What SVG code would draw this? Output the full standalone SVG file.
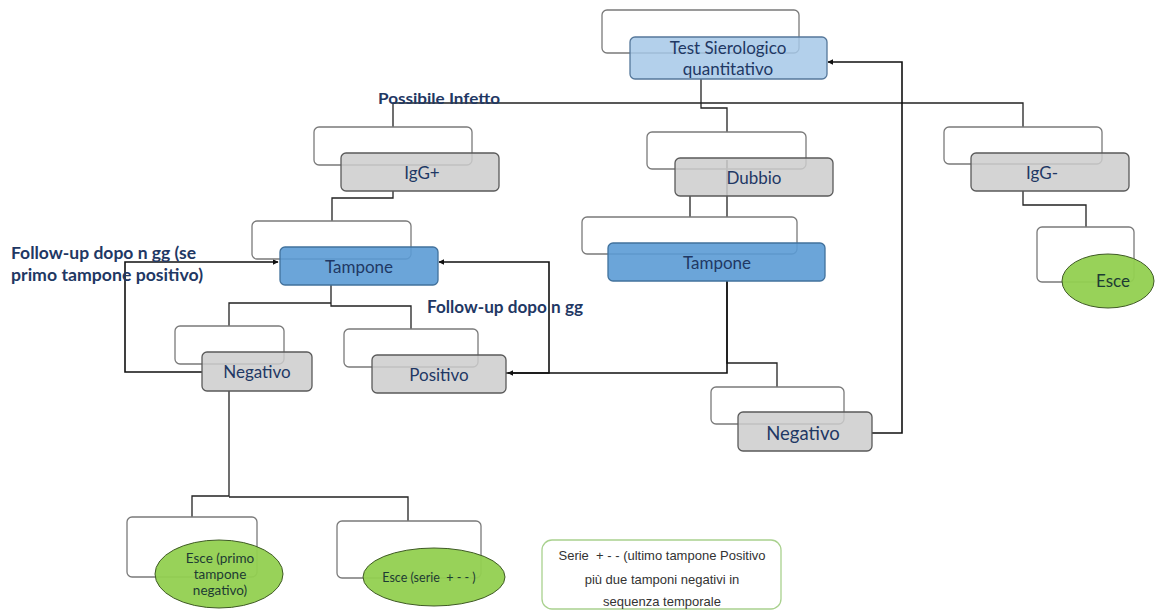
<svg xmlns="http://www.w3.org/2000/svg" width="1155" height="610" viewBox="0 0 1155 610">
<style>
.bg{fill:#ffffff}
.back{fill:none;stroke:#7a7a7a;stroke-width:1.3}
.gray{fill:#cdcdcd;fill-opacity:0.85;stroke:#5a5a5a;stroke-width:1.3}
.lblue{fill:#a6c8e8;fill-opacity:0.85;stroke:#55779a;stroke-width:1.3}
.blue{fill:#5b9bd5;fill-opacity:0.9;stroke:#41719c;stroke-width:1.3}
.green{fill:#92d050;stroke:#3f5a25;stroke-width:1}
.conn{fill:none;stroke:#222;stroke-width:1.3}
.arr{fill:none;stroke:#111;stroke-width:1.6;marker-end:url(#ah)}
.t{font-family:Lato,"Liberation Sans",sans-serif;fill:#1f3864;text-anchor:middle}
.g{font-family:Lato,"Liberation Sans",sans-serif;fill:#1d3b33;text-anchor:middle}
.b{font-family:Lato,"Liberation Sans",sans-serif;font-weight:bold;fill:#1f3864}
.leg{font-family:"Liberation Sans",Arial,sans-serif;font-size:13px;fill:#333;text-anchor:middle}
</style>
<defs>
<marker id="ah" viewBox="0 0 10 10" refX="9" refY="5" markerWidth="6" markerHeight="6" markerUnits="userSpaceOnUse" orient="auto">
<path d="M0,0 L10,5 L0,10 z" fill="#111"/>
</marker>
</defs>
<rect class="bg" x="0" y="0" width="1155" height="610"/>

<g id="connectors">
<polyline class="conn" points="701,79 701,108 727,108 727,132"/>
<polyline class="conn" points="393,127 393,103 1023,103 1023,127"/>
<polyline class="conn" points="393,191 393,198 332,198 332,221"/>
<line class="conn" x1="690" y1="196" x2="690" y2="217"/>
<line class="conn" x1="727" y1="160" x2="727" y2="217"/>
<polyline class="conn" points="1023,191 1023,205 1086,205 1086,227"/>
<polyline class="conn" points="331,285 331,306 411,306 411,329"/>
<polyline class="conn" points="331,303 229,303 229,326"/>
<polyline class="conn" points="727,281 727,363 777,363 777,387"/>
<polyline class="conn" points="229,391 229,496 192,496 192,517"/>
<polyline class="conn" points="229,497 408,497 408,521"/>
<polyline class="arr" points="202,372 125,372 125,262 278,262"/>
<polyline class="arr" points="506,373 549,373 549,262 439,262"/>
<polyline class="arr" points="727,281 727,373 508,373"/>
<polyline class="arr" points="872,433 902,433 902,62 828,62"/>
</g>

<g id="test-sierologico">
<rect class="back" x="602" y="10" width="197" height="43" rx="5"/>
<rect class="lblue" x="630" y="37" width="197" height="42" rx="5"/>
<text class="t" x="728" y="54" font-size="17">Test Sierologico</text>
<text class="t" x="728" y="75" font-size="17">quantitativo</text>
</g>

<g id="possibile-infetto">
<text class="b" x="378" y="104" font-size="15" textLength="122" lengthAdjust="spacingAndGlyphs">Possibile Infetto</text>
</g>

<g id="igg-pos">
<rect class="back" x="314" y="127" width="158" height="38" rx="5"/>
<rect class="gray" x="341" y="153" width="158" height="38" rx="5"/>
<text class="t" x="422" y="179" font-size="17">IgG+</text>
</g>

<g id="dubbio">
<rect class="back" x="647" y="132" width="159" height="37" rx="5"/>
<rect class="gray" x="675" y="158" width="158" height="38" rx="5"/>
<text class="t" x="754" y="184" font-size="17">Dubbio</text>
</g>

<g id="igg-neg">
<rect class="back" x="944" y="127" width="158" height="37" rx="5"/>
<rect class="gray" x="971" y="153" width="158" height="38" rx="5"/>
<text class="t" x="1042" y="179" font-size="17">IgG-</text>
</g>

<g id="esce-right">
<rect class="back" x="1037" y="227" width="97" height="55" rx="5"/>
<ellipse class="green" cx="1108" cy="281" rx="46" ry="27" fill-opacity="0.95"/>
<text class="g" x="1113" y="287" font-size="17">Esce</text>
</g>

<g id="tampone-left">
<rect class="back" x="252" y="221" width="159" height="38" rx="5"/>
<rect class="blue" x="280" y="247" width="158" height="38" rx="5"/>
<text class="t" x="359" y="273" font-size="17">Tampone</text>
</g>

<g id="tampone-right">
<rect class="back" x="582" y="217" width="215" height="37" rx="5"/>
<rect class="blue" x="608" y="243" width="217" height="38" rx="5"/>
<text class="t" x="717" y="269" font-size="17">Tampone</text>
</g>

<g id="followup-left">
<text class="b" x="11" y="259" font-size="17" textLength="185" lengthAdjust="spacingAndGlyphs">Follow-up dopo n gg (se</text>
<text class="b" x="11" y="281" font-size="17" textLength="192" lengthAdjust="spacingAndGlyphs">primo tampone positivo)</text>
</g>

<g id="followup-right">
<text class="b" x="427" y="313" font-size="16.5" textLength="156" lengthAdjust="spacingAndGlyphs">Follow-up dopo n gg</text>
</g>

<g id="negativo-left">
<rect class="back" x="175" y="326" width="109" height="38" rx="5"/>
<rect class="gray" x="202" y="352" width="110" height="39" rx="5"/>
<text class="t" x="257" y="378" font-size="17">Negativo</text>
</g>

<g id="positivo">
<rect class="back" x="344" y="329" width="134" height="38" rx="5"/>
<rect class="gray" x="372" y="355" width="134" height="38" rx="5"/>
<text class="t" x="439" y="381" font-size="17">Positivo</text>
</g>

<g id="negativo-right">
<rect class="back" x="711" y="387" width="133" height="37" rx="5"/>
<rect class="gray" x="738" y="412" width="134" height="39" rx="5"/>
<text class="t" x="803" y="440" font-size="18.5">Negativo</text>
</g>

<g id="esce-primo">
<rect class="back" x="127" y="517" width="130" height="60" rx="5"/>
<ellipse class="green" cx="219" cy="574" rx="64" ry="34" fill-opacity="0.95"/>
<text class="g" x="220" y="563" font-size="13.5">Esce (primo</text>
<text class="g" x="220" y="579" font-size="13.5">tampone</text>
<text class="g" x="220" y="595" font-size="13.5">negativo)</text>
</g>

<g id="esce-serie">
<rect class="back" x="337" y="521" width="144" height="57" rx="5"/>
<ellipse class="green" cx="434" cy="577" rx="71" ry="29" fill-opacity="0.95"/>
<text class="g" x="429" y="582" font-size="12.5" xml:space="preserve">Esce (serie  + - - )</text>
</g>

<g id="legenda">
<rect x="542" y="540" width="239" height="69" rx="10" fill="#fff" stroke="#a9d18e" stroke-width="1.3"/>
<text class="leg" x="662" y="560" xml:space="preserve">Serie  + - - (ultimo tampone Positivo</text>
<text class="leg" x="662" y="584">più due tamponi negativi in</text>
<text class="leg" x="662" y="606">sequenza temporale</text>
</g>
</svg>
